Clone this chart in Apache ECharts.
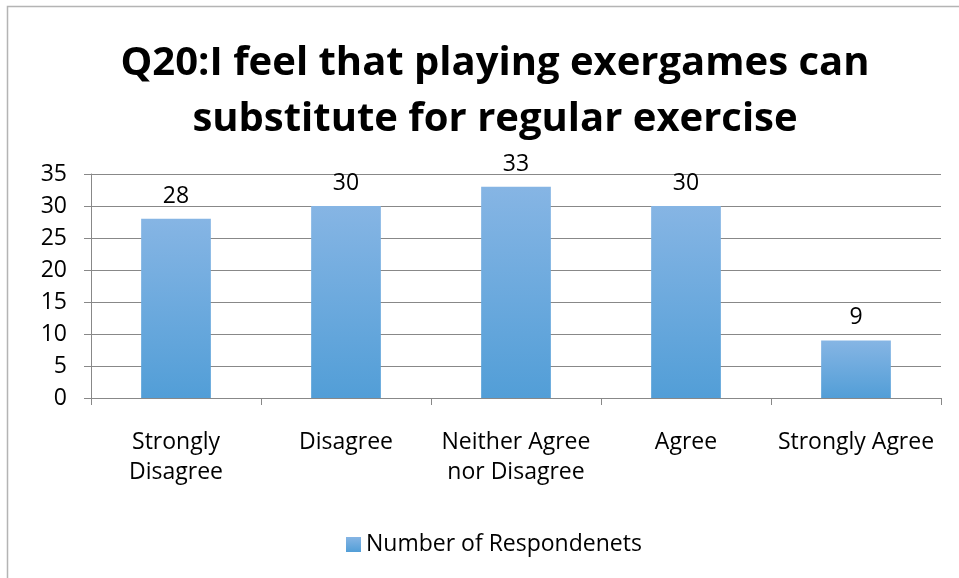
<!DOCTYPE html>
<html><head><meta charset="utf-8">
<script src="https://cdn.jsdelivr.net/npm/echarts@6/dist/echarts.min.js"></script>
<style>html,body{margin:0;padding:0;background:#fff}#c{width:959px;height:578px}</style>
</head><body><div id="c"></div>
<script>
const categories = ['Strongly\nDisagree', 'Disagree', 'Neither Agree\nnor Disagree', 'Agree', 'Strongly Agree'];
const values = [28, 30, 33, 30, 9];
const seriesName = 'Number of Respondenets';
const titleText = 'Q20:I feel that playing exergames can\nsubstitute for regular exercise';

const font = '"Open Sans", "Liberation Sans", sans-serif';
const chart = echarts.init(document.getElementById('c'), null, {renderer: 'canvas'});
const grad = new echarts.graphic.LinearGradient(0, 0, 0, 1, [
  {offset: 0, color: '#86b5e4'}, {offset: 1, color: '#529ed7'}
]);
chart.setOption({
  animation: false,
  graphic: [{type: 'rect', left: 5, top: 4, shape: {width: 980, height: 600},
    style: {fill: 'none', stroke: '#b4b4b4', lineWidth: 1.5}, silent: true}],
  title: {text: titleText, left: 490, top: 31, textAlign: 'center',
    textStyle: {fontFamily: font, fontSize: 40, fontWeight: 'bold', color: '#000', lineHeight: 56}},
  grid: {left: 91, right: 18, top: 174, bottom: 180, containLabel: false},
  legend: {bottom: 17, left: 341, itemWidth: 15, itemHeight: 15, itemGap: 8,
    icon: 'rect', textStyle: {fontFamily: font, fontSize: 23, color: '#000'}},
  xAxis: {type: 'category', data: categories,
    axisLine: {lineStyle: {color: '#888', width: 1}},
    axisTick: {show: true, length: 7, lineStyle: {color: '#888'}},
    axisLabel: {fontFamily: font, fontSize: 23, color: '#000', lineHeight: 30, margin: 29, interval: 0}},
  yAxis: {type: 'value', min: 0, max: 35, interval: 5,
    axisLine: {show: true, lineStyle: {color: '#888'}},
    axisTick: {show: true, length: 7, lineStyle: {color: '#888'}},
    splitLine: {lineStyle: {color: '#888', width: 1}},
    axisLabel: {fontFamily: font, fontSize: 23, color: '#000', margin: 24}},
  series: [{name: seriesName, type: 'bar', data: values, barWidth: '41%',
    itemStyle: {color: grad},
    label: {show: true, position: 'top', distance: 11, fontFamily: font, fontSize: 23, color: '#000'}}]
});
</script></body></html>
